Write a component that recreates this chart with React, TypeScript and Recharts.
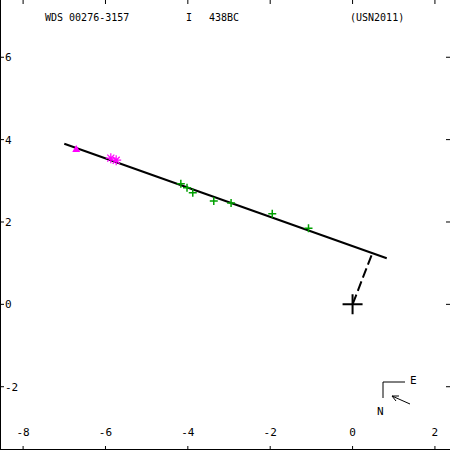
import React from "react";
import {
  ScatterChart,
  Scatter,
  XAxis,
  YAxis,
  ReferenceLine,
} from "recharts";

// separation data in arcsec (x: right, y: up)
const greenX = [-4.17, -4.02, -3.88, -3.37, -2.95, -1.95, -1.07];
const greenY = [2.93, 2.83, 2.71, 2.51, 2.46, 2.2, 1.85];
const starX = [-5.87, -5.74];
const starY = [3.55, 3.5];
const triX = [-6.71];
const triY = [3.77];
const fitLine = [
  { x: -7.0, y: 3.9 },
  { x: 0.83, y: 1.12 },
];
const periLine = [
  { x: 0.46, y: 1.19 },
  { x: 0.0, y: 0.0 },
];
const origin = [{ x: 0, y: 0 }];
const xTicks = [-8, -6, -4, -2, 0, 2];
const yTicks = [-2, 0, 2, 4, 6];

const W = 450;
const H = 450;
const FONT = "'DejaVu Sans Mono', monospace";
const xDomain = [-351 / 41, 97 / 41];
const yDomain = [-145 / 41, 303 / 41];

const zip = (xs: number[], ys: number[]) => xs.map((x, i) => ({ x, y: ys[i] }));

const Plus = (p: any) => (
  <path
    d={`M${p.cx - 4},${p.cy}H${p.cx + 4}M${p.cx},${p.cy - 4}V${p.cy + 4}`}
    stroke="#00a000"
    strokeWidth={1.5}
    fill="none"
  />
);

const Star = (p: any) => {
  const r = 5;
  const d = 3.5;
  return (
    <path
      d={`M${p.cx - r},${p.cy}H${p.cx + r}M${p.cx},${p.cy - r}V${p.cy + r}M${p.cx - d},${p.cy - d}L${p.cx + d},${p.cy + d}M${p.cx - d},${p.cy + d}L${p.cx + d},${p.cy - d}`}
      stroke="#ff00ff"
      strokeWidth={1.2}
      fill="none"
    />
  );
};

const Tri = (p: any) => (
  <path
    d={`M${p.cx - 4},${p.cy + 3}L${p.cx + 4},${p.cy + 3}L${p.cx},${p.cy - 4}Z`}
    fill="#ff00ff"
  />
);

const Cross = (p: any) => (
  <path
    d={`M${p.cx - 10},${p.cy}H${p.cx + 10}M${p.cx},${p.cy - 10}V${p.cy + 10}`}
    stroke="#000"
    strokeWidth={2}
    fill="none"
  />
);

const tickStyle = { fontFamily: FONT, fontSize: 11, fill: "#000" };
const noLabel = () => <g />;
const axisLine = { stroke: "#000", strokeWidth: 2 };
const tickLine = { stroke: "#000", strokeWidth: 1 };

export default function App() {
  return (
    <div style={{ position: "absolute", left: 0, top: 0, width: W, height: H, background: "#fff" }}>
      <ScatterChart width={W} height={H} margin={{ top: 0, right: 0, bottom: 0, left: 0 }}>
        <XAxis
          xAxisId="b"
          dataKey="x"
          type="number"
          domain={xDomain}
          ticks={xTicks}
          orientation="bottom"
          mirror
          height={1}
          tickSize={4}
          tickMargin={10}
          allowDataOverflow
          axisLine={axisLine}
          tick={tickStyle}
          tickLine={tickLine}
        />
        <XAxis
          xAxisId="t"
          dataKey="x"
          type="number"
          domain={xDomain}
          ticks={xTicks}
          orientation="top"
          mirror
          height={1}
          tickSize={4}
          allowDataOverflow
          axisLine={false}
          tick={noLabel}
          tickLine={tickLine}
        />
        <YAxis
          yAxisId="l"
          dataKey="y"
          type="number"
          domain={yDomain}
          ticks={yTicks}
          orientation="left"
          mirror
          width={1}
          tickSize={4}
          tickMargin={1}
          allowDataOverflow
          axisLine={axisLine}
          tick={tickStyle}
          tickLine={tickLine}
        />
        <YAxis
          yAxisId="r"
          dataKey="y"
          type="number"
          domain={yDomain}
          ticks={yTicks}
          orientation="right"
          mirror
          width={1}
          tickSize={4}
          allowDataOverflow
          axisLine={false}
          tick={noLabel}
          tickLine={tickLine}
        />
        <ReferenceLine
          xAxisId="b"
          yAxisId="l"
          segment={fitLine}
          stroke="#000"
          strokeWidth={2}
          ifOverflow="visible"
        />
        <ReferenceLine
          xAxisId="b"
          yAxisId="l"
          segment={periLine}
          stroke="#000"
          strokeWidth={2}
          strokeDasharray="10 4"
          ifOverflow="visible"
        />
        <Scatter xAxisId="b" yAxisId="l" data={zip(greenX, greenY)} shape={Plus} isAnimationActive={false} />
        <Scatter xAxisId="b" yAxisId="l" data={zip(starX, starY)} shape={Star} isAnimationActive={false} />
        <Scatter xAxisId="b" yAxisId="l" data={zip(triX, triY)} shape={Tri} isAnimationActive={false} />
        <Scatter xAxisId="b" yAxisId="l" data={origin} shape={Cross} isAnimationActive={false} />
      </ScatterChart>
      <svg
        width={W}
        height={H}
        style={{ position: "absolute", left: 0, top: 0, pointerEvents: "none" }}
      >
        <g fontFamily={FONT} fontSize={10} fill="#000">
          <text x={45} y={21}>WDS 00276-3157</text>
          <text x={186} y={21}>I</text>
          <text x={209} y={21}>438BC</text>
          <text x={350} y={21}>(USN2011)</text>
          <text x={410} y={384} fontSize={11}>E</text>
          <text x={377} y={415} fontSize={11}>N</text>
        </g>
        <path d="M383,398V382H405" stroke="#000" strokeWidth={1} fill="none" />
        <path d="M410,404L392,396M392,396L399,396M392,396L396,401" stroke="#000" strokeWidth={1} fill="none" />
      </svg>
    </div>
  );
}
